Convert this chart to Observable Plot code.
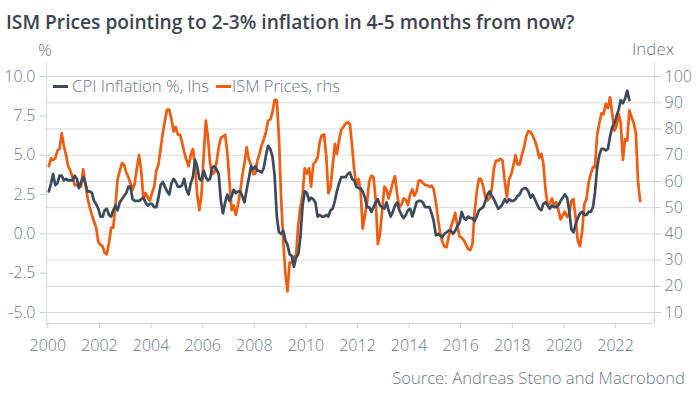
<!DOCTYPE html>
<html><head><meta charset="utf-8">
<script src="https://cdn.jsdelivr.net/npm/d3@7"></script>
<script src="https://cdn.jsdelivr.net/npm/@observablehq/plot@0.6"></script>
<style>
body{margin:0;background:#fff;}
#wrap{position:relative;width:696px;height:396px;overflow:hidden;font-family:"Open Sans",sans-serif;background:#fff;}
.t{position:absolute;white-space:nowrap;line-height:24px;}
#title{left:6px;top:9.5px;font-weight:600;font-size:18px;color:#3c4451;}
#chart{position:absolute;left:0;top:34px;}
.g{font-weight:300;font-size:16px;color:#6e7886;}
.sw{position:absolute;width:15px;height:3px;}
</style>
</head><body>
<div id="wrap">
  <div id="title" class="t">ISM Prices pointing to 2-3% inflation in 4-5 months from now?</div>
  <div id="chart"></div>
  <div id="pct" class="t g" style="left:38px;top:38px;font-size:17px;">%</div>
  <div id="idx" class="t g" style="left:632px;top:37px;font-size:17px;">Index</div>
  <div class="sw" style="left:53px;top:84.5px;background:#3c4a5d;"></div>
  <div id="leg1" class="t g" style="left:72px;top:73.5px;">CPI Inflation %, lhs</div>
  <div class="sw" style="left:216px;top:84.5px;background:#f35b0d;"></div>
  <div id="leg2" class="t g" style="left:232px;top:73.5px;">ISM Prices, rhs</div>
  <div id="source" class="t g" style="right:11px;top:365.5px;">Source: Andreas Steno and Macrobond</div>
</div>
<script>
// US CPI inflation, % y/y, monthly from Jan 2000 (lhs)
const cpiStart = [2000, 0];
const cpiValues = [
  2.7,3.2,3.8,3.1,3.2,3.7,3.7,3.4,3.5,3.4,3.4,3.4,
  3.7,3.5,2.9,3.3,3.6,3.2,2.7,2.7,2.6,2.1,1.9,1.6,
  1.1,1.1,1.5,1.6,1.2,1.1,1.5,1.8,1.5,2.0,2.2,2.4,
  2.6,3.0,3.0,2.2,2.1,2.1,2.1,2.2,2.3,2.0,1.8,1.9,
  1.9,1.7,1.7,2.3,3.1,3.3,3.0,2.7,2.5,3.2,3.5,3.3,
  3.0,3.0,3.1,3.5,2.8,2.5,3.2,3.6,4.7,4.3,3.5,3.4,
  4.0,3.6,3.4,3.5,4.2,4.3,4.1,3.8,2.1,1.3,2.0,2.5,
  2.1,2.4,2.8,2.6,2.7,2.7,2.4,2.0,2.8,3.5,4.3,4.1,
  4.3,4.0,4.0,3.9,4.2,5.0,5.6,5.4,4.9,3.7,1.1,0.1,
  0.0,0.2,-0.4,-0.7,-1.3,-1.4,-2.1,-1.5,-1.3,-0.2,1.8,2.7,
  2.6,2.1,2.3,2.2,2.0,1.1,1.2,1.1,1.1,1.2,1.1,1.5,
  1.6,2.1,2.7,3.2,3.6,3.6,3.6,3.8,3.9,3.5,3.4,3.0,
  2.9,2.9,2.7,2.3,1.7,1.7,1.4,1.7,2.0,2.2,1.8,1.7,
  1.6,2.0,1.5,1.1,1.4,1.8,2.0,1.5,1.2,1.0,1.2,1.5,
  1.6,1.1,1.5,2.0,2.1,2.1,2.0,1.7,1.7,1.7,1.3,0.8,
  -0.1,0.0,-0.1,-0.2,0.0,0.1,0.2,0.2,0.0,0.2,0.5,0.7,
  1.4,1.0,0.9,1.1,1.0,1.0,0.8,1.1,1.5,1.6,1.7,2.1,
  2.5,2.7,2.4,2.2,1.9,1.6,1.7,1.9,2.2,2.0,2.2,2.1,
  2.1,2.2,2.4,2.5,2.8,2.9,2.9,2.7,2.3,2.5,2.2,1.9,
  1.6,1.5,1.9,2.0,1.8,1.6,1.8,1.7,1.7,1.8,2.1,2.3,
  2.5,2.3,1.5,0.3,0.1,0.6,1.0,1.3,1.4,1.2,1.2,1.4,
  1.4,1.7,2.6,4.2,5.0,5.4,5.4,5.3,5.4,6.2,6.8,7.0,
  7.5,7.9,8.5,8.3,8.6,9.1,8.5
];

// ISM Manufacturing Prices index, monthly from Sep 1999 (rhs), shown 4 months ahead
const ismStart = [1999, 8];
const ismLeadMonths = 4;
const ismValues = [
  65.8,68.8,68.2,68.8,71.8,72.4,78.4,73.6,70,65.8,64,61.6,
  58.6,58.6,58,58,64.6,59.2,53.8,50.2,47.2,44.8,42.4,37,
  35.8,35.2,32.8,32.2,36.4,42.4,42.4,50.8,61,64,67,66.4,
  63.4,61.6,59.2,56.8,59.2,65.2,70,64,53.2,55.6,53.8,52.6,
  55.6,58,64,66.4,72.4,78.4,83.2,87.4,87.4,83.8,79,80.8,
  77.8,77.8,74.8,71.2,68.2,65.8,70,72.4,65.8,55,49,55,
  70,83.2,77.2,67,62.8,63.4,67,73,76.6,77.2,77.8,71.2,
  59.8,49,50.8,47.2,51,56,62,67,73,68.5,66.5,62.8,
  63,68,70.5,74,76,79,83.2,83.6,86.5,91.1,91,77,
  53.5,37,25.5,18,29,29,31,32,43.5,50,55,65,
  63,65,58,66.5,67.5,69,75,77.7,77.9,70,55.5,57.8,
  66,74.3,70.5,75.6,79.6,80.8,82,82.6,81.9,74,64.5,58.3,
  61,56,42,47,52,60,62.2,61.6,52.7,36.1,40,49,
  58,57,53.5,56.5,59.5,62,55.2,50.1,51.2,53.5,53,51,
  55,57,54.5,56,60.3,60.3,59.4,58.6,58.5,58,58.4,57,
  52,45.5,40.5,37,35.2,34.9,39,42.5,45,48,43,39,
  38.5,37.5,36,34.2,33.8,36,48,56,61,61,58,54,
  52.7,53.9,57,65,67.9,67.9,68.6,68,60,53.9,61,62.5,
  66,70,66.5,66.5,70,73,77,79.2,79,77.5,75.6,73,
  69,70.5,67,57,51,51.5,53.5,51,52,49,45.5,47,
  48.5,46.5,47.5,52.5,53.3,45.9,37.4,35.3,40.8,51.3,53.2,59.5,
  62.8,65.5,65.4,77.6,82.1,86.0,85.6,89.6,88.0,92.1,85.7,79.4,
  81.2,85.7,82.4,68.2,76.1,75.6,87.1,84.6,82.2,78.5,60.0,52.5
];

// Axis ticks
const lhsTicks = [-5, -2.5, 0, 2.5, 5, 7.5, 10];
const rhsTicks = [10, 20, 30, 40, 50, 60, 70, 80, 90, 100];

// rhs -> lhs mapping (100 <-> 10, 10 <-> -5)
const toL = r => (r - 40) / 6;
const toR = l => l * 6 + 40;

const cpi = cpiValues.map((v, i) => ({date: new Date(Date.UTC(cpiStart[0], cpiStart[1] + i, 15)), value: v}));
const ism = ismValues.map((v, i) => ({date: new Date(Date.UTC(ismStart[0], ismStart[1] + i + ismLeadMonths, 15)), value: v}));

const xDomain = [new Date(Date.UTC(1999, 11, 13)), new Date(Date.UTC(2023, 6, 6))];
const yDomain = [-5.7, 10.83];
const axisCol = "#c9ced5";

const chart = Plot.plot({
  width: 696, height: 330,
  marginLeft: 46, marginRight: 42, marginTop: 29, marginBottom: 41,
  x: {type: "utc", domain: xDomain},
  y: {domain: yDomain},
  style: {fontFamily: "Open Sans, sans-serif", fontSize: "16px", fontWeight: 300, color: "#6e7886", background: "transparent", overflow: "visible"},
  marks: [
    Plot.gridY(rhsTicks.map(toL), {stroke: "#d9d9d9", strokeOpacity: 1}),
    Plot.ruleX(xDomain, {stroke: "#d3d8de"}),
    Plot.ruleY([yDomain[0]], {stroke: "#d3d8de"}),
    Plot.axisX({ticks: d3.utcYear.every(2), tickFormat: "%Y", tickSize: 5, tickPadding: 11, stroke: axisCol, fill: "#6e7886", label: null}),
    Plot.axisY({anchor: "left", ticks: lhsTicks, tickFormat: d => d.toFixed(1), tickSize: 6, tickPadding: 5, stroke: axisCol, fill: "#6e7886", label: null}),
    Plot.axisY({anchor: "right", ticks: rhsTicks.map(toL), tickFormat: d => String(Math.round(toR(d))), tickSize: 6, tickPadding: 4, stroke: axisCol, fill: "#6e7886", label: null}),
    Plot.line(ism, {x: "date", y: d => toL(d.value), stroke: "#f35b0d", strokeWidth: 2.7, strokeLinejoin: "round"}),
    Plot.line(cpi, {x: "date", y: "value", stroke: "#3c4a5d", strokeWidth: 2.7, strokeLinejoin: "round"})
  ]
});
document.getElementById("chart").appendChild(chart);

function fitWidth(id, target) {
  const el = document.getElementById(id);
  const w = el.getBoundingClientRect().width;
  const fs = parseFloat(getComputedStyle(el).fontSize);
  el.style.fontSize = (fs * target / w) + "px";
}
fitWidth("title", 569);
fitWidth("leg1", 137);
fitWidth("leg2", 108);
fitWidth("source", 293);
</script>
</body></html>
